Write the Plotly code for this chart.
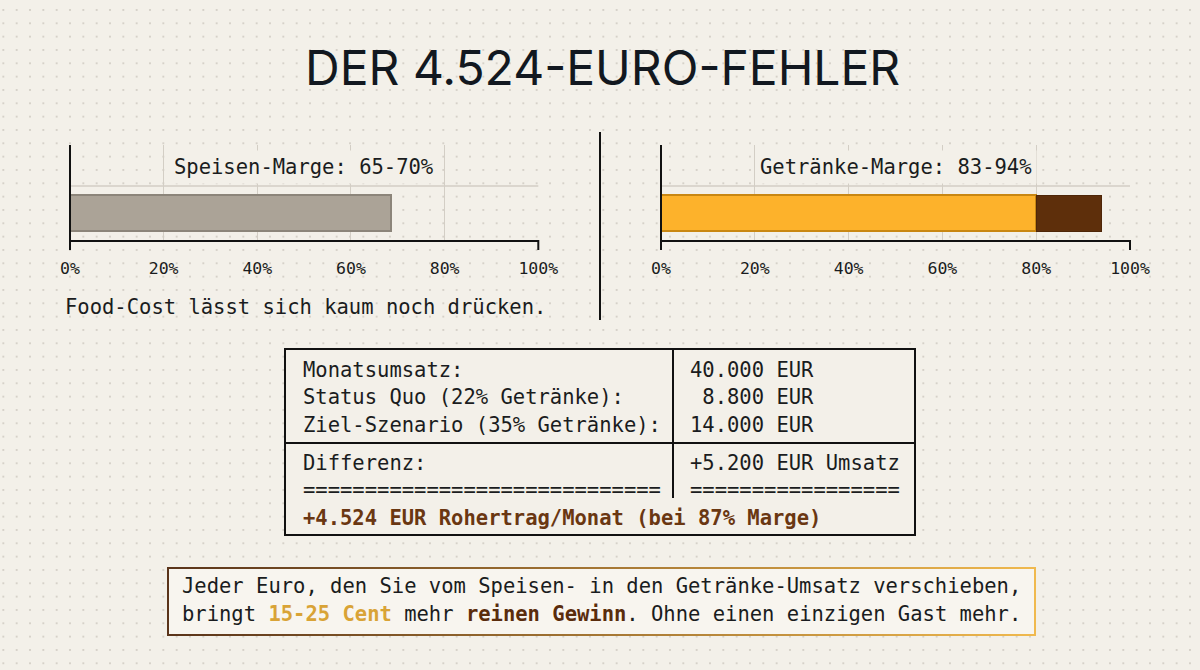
import base64
import plotly.graph_objects as go

# ---------------- data ----------------
food_label = ["Speisen"]
food_margin = [68.5]          # Speisen-Marge (%)
drink_label = ["Getränke"]
drink_base = [80]             # Getränke-Marge, unterer Teil (%)
drink_extra = [14]            # zusätzlicher Bereich bis 94 %
tick_vals = [0, 20, 40, 60, 80, 100]
tick_text = ["0%", "20%", "40%", "60%", "80%", "100%"]

title_text = "DER 4.524-EURO-FEHLER"
food_title = "Speisen-Marge: 65-70%"
drink_title = "Getränke-Marge: 83-94%"
food_note = "Food-Cost lässt sich kaum noch drücken."

table_left = ["Monatsumsatz:", "Status Quo (22% Getränke):", "Ziel-Szenario (35% Getränke):",
              "Differenz:", "============================="]
table_right = ["40.000 EUR", "\u00a08.800 EUR", "14.000 EUR", "+5.200 EUR Umsatz", "================="]
table_result = "+4.524 EUR Rohertrag/Monat (bei 87% Marge)"

# ---------------- style ----------------
W, H = 1200, 670
BG = "#F3F0E9"
INK = "#1A1C20"
GRID = "#D3CEC5"
MONO = "DejaVu Sans Mono, Liberation Mono, monospace"
SANS = "Inter, Roboto, sans-serif"
BROWN = "#6A3712"
GOLD = "#D9A336"


def px(x):
    return x / W


def py(y):
    return 1 - y / H


# background: dot grid + gradient-bordered callout box
svg = f'''<svg xmlns="http://www.w3.org/2000/svg" width="{W}" height="{H}" viewBox="0 0 {W} {H}">
<defs>
<pattern id="d" x="10" y="3.3" width="13.333" height="13.333" patternUnits="userSpaceOnUse">
<circle cx="6.67" cy="6.67" r="1" fill="#CFCAC1"/></pattern>
<linearGradient id="g" x1="0" y1="0" x2="1" y2="0">
<stop offset="0" stop-color="#5A341A"/><stop offset="1" stop-color="#F0B94E"/></linearGradient>
</defs>
<rect width="{W}" height="{H}" fill="url(#d)"/>
<rect x="168" y="568" width="867" height="67" fill="#F8F5EF" stroke="url(#g)" stroke-width="2"/>
</svg>'''
svg_uri = "data:image/svg+xml;base64," + base64.b64encode(svg.encode()).decode()

fig = go.Figure()

fig.add_trace(go.Bar(
    x=food_margin, y=[0], orientation="h", width=0.8, name=food_label[0],
    marker=dict(color="#ABA397", line=dict(color="#8C857A", width=2)),
    xaxis="x", yaxis="y", hoverinfo="skip"))
fig.add_trace(go.Bar(
    x=drink_base, y=[0], orientation="h", width=0.8, name=drink_label[0],
    marker=dict(color="#FDB22B", line=dict(color="#C98712", width=2)),
    xaxis="x2", yaxis="y2", hoverinfo="skip"))
fig.add_trace(go.Bar(
    x=drink_extra, base=drink_base, y=[0], orientation="h", width=0.8, name="extra",
    marker=dict(color="#5E2F0B", line=dict(color="#4E2608", width=1)),
    xaxis="x2", yaxis="y2", hoverinfo="skip"))

y_dom = [py(240), py(145)]
y_rng = [-0.6, 1.511]
xcommon = dict(range=[0, 100], tickvals=tick_vals, ticktext=tick_text,
               showgrid=True, gridcolor=GRID, gridwidth=1, zeroline=False,
               showline=True, linecolor="#111", linewidth=2, automargin=False,
               ticks="outside", ticklen=12, tickcolor="rgba(0,0,0,0)",
               tickfont=dict(family=MONO, size=16.5, color=INK), fixedrange=True)
ycommon = dict(range=y_rng, domain=y_dom, visible=False, fixedrange=True, automargin=False)

fig.update_layout(
    width=W, height=H, autosize=False,
    margin=dict(l=0, r=0, t=0, b=0, pad=0, autoexpand=False),
    paper_bgcolor=BG, plot_bgcolor="rgba(0,0,0,0)",
    showlegend=False, barmode="stack",
    xaxis=dict(domain=[px(70), px(538.3)], anchor="y", **xcommon),
    yaxis=dict(anchor="x", **ycommon),
    xaxis2=dict(domain=[px(661), px(1130)], anchor="y2", **xcommon),
    yaxis2=dict(anchor="x2", **ycommon),
    images=[dict(source=svg_uri, xref="paper", yref="paper", x=0, y=1, sizex=1, sizey=1,
                 xanchor="left", yanchor="top", sizing="stretch", layer="below")],
)

shapes = []
for xr in ["x", "x2"]:
    # left axis line extending below the baseline
    shapes.append(dict(type="line", xref=f"{xr} domain", yref="paper", x0=0, x1=0,
                       y0=py(250), y1=py(145), line=dict(color="#111", width=2)))
    # right end tick
    shapes.append(dict(type="line", xref=f"{xr} domain", yref="paper", x0=1, x1=1,
                       y0=py(250), y1=py(240), line=dict(color="#111", width=2)))
    # horizontal grid line
    shapes.append(dict(type="line", xref=f"{xr} domain", yref="paper", x0=0, x1=1,
                       y0=py(186), y1=py(186), line=dict(color=GRID, width=1.5), layer="below"))
# divider between charts
shapes.append(dict(type="line", xref="paper", yref="paper", x0=px(600), x1=px(600),
                   y0=py(320), y1=py(132), line=dict(color="#111", width=2)))
# table
shapes.append(dict(type="rect", xref="paper", yref="paper", x0=px(285), x1=px(915),
                   y0=py(535), y1=py(349), line=dict(color="#111", width=2), fillcolor=BG, layer="below"))
shapes.append(dict(type="line", xref="paper", yref="paper", x0=px(673), x1=px(673),
                   y0=py(498), y1=py(349), line=dict(color="#111", width=2)))
shapes.append(dict(type="line", xref="paper", yref="paper", x0=px(285), x1=px(915),
                   y0=py(443), y1=py(443), line=dict(color="#111", width=2)))
fig.update_layout(shapes=shapes)

ann = []
ann.append(dict(text=title_text, x=px(603), y=py(68), xref="paper", yref="paper",
                showarrow=False, xanchor="center", yanchor="middle",
                font=dict(family=SANS, size=48, color="#121820")))
ann.append(dict(text=food_title, x=px(304), y=py(167), xref="paper", yref="paper",
                showarrow=False, xanchor="center", yanchor="middle", bgcolor=BG, borderpad=4,
                font=dict(family=MONO, size=20.5, color=INK)))
ann.append(dict(text=drink_title, x=px(895.5), y=py(167), xref="paper", yref="paper",
                showarrow=False, xanchor="center", yanchor="middle", bgcolor=BG, borderpad=4,
                font=dict(family=MONO, size=20.5, color=INK)))
ann.append(dict(text=food_note, x=px(63), y=py(307), xref="paper", yref="paper",
                showarrow=False, xanchor="left", yanchor="middle",
                font=dict(family=MONO, size=20.5, color=INK)))

row_y = [370, 397, 425, 463, 490]
for t, yy in zip(table_left, row_y):
    ann.append(dict(text=t, x=px(301), y=py(yy), xref="paper", yref="paper",
                    showarrow=False, xanchor="left", yanchor="middle",
                    font=dict(family=MONO, size=20.5, color=INK)))
for t, yy in zip(table_right, row_y):
    ann.append(dict(text=t, x=px(688), y=py(yy), xref="paper", yref="paper",
                    showarrow=False, xanchor="left", yanchor="middle",
                    font=dict(family=MONO, size=20.5, color=INK)))
ann.append(dict(text=f"<b>{table_result}</b>", x=px(301), y=py(518), xref="paper", yref="paper",
                showarrow=False, xanchor="left", yanchor="middle",
                font=dict(family=MONO, size=20.5, color=BROWN)))

line1 = "Jeder Euro, den Sie vom Speisen- in den Getränke-Umsatz verschieben,"
line2 = (f"bringt <span style='color:{GOLD}'><b>15-25 Cent</b></span> mehr "
         f"<span style='color:#5A2C0C'><b>reinen Gewinn</b></span>. Ohne einen einzigen Gast mehr.")
ann.append(dict(text=line1, x=px(180), y=py(586), xref="paper", yref="paper",
                showarrow=False, xanchor="left", yanchor="middle",
                font=dict(family=MONO, size=20.5, color=INK)))
ann.append(dict(text=line2, x=px(180), y=py(614), xref="paper", yref="paper",
                showarrow=False, xanchor="left", yanchor="middle",
                font=dict(family=MONO, size=20.5, color=INK)))
fig.update_layout(annotations=ann)

fig.write_html("out.html", config={"displayModeBar": False},
               post_script="document.body.style.margin='0';document.body.style.overflow='hidden';"
                           "document.documentElement.style.overflow='hidden';")
